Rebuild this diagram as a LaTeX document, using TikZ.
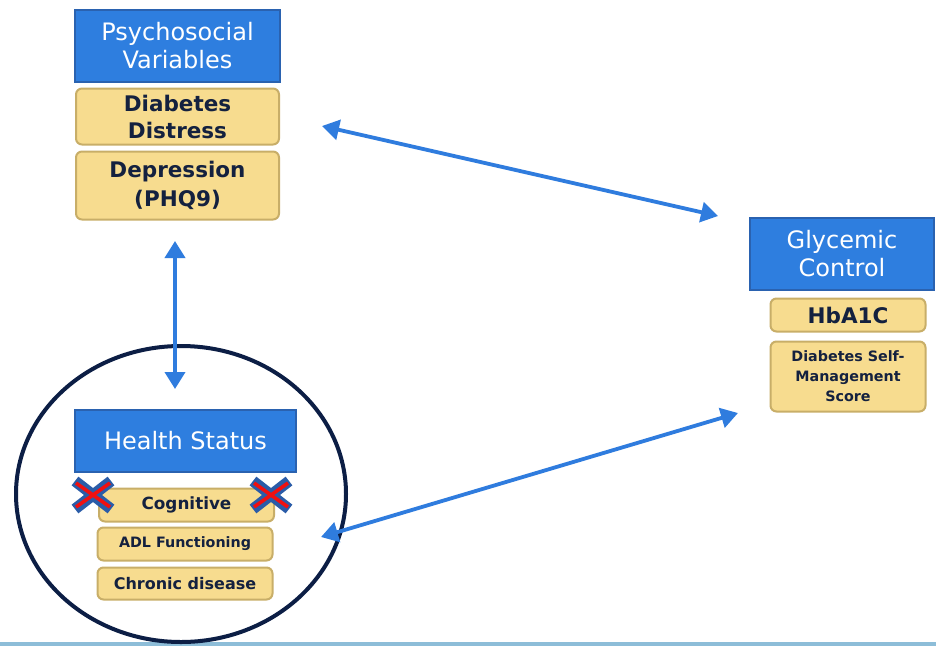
\documentclass[tikz,border=0pt]{standalone}
\usepackage{fontspec}
\setmainfont{DejaVu Sans}
\usetikzlibrary{arrows.meta}
\definecolor{boxblue}{HTML}{2E7EDF}
\definecolor{boxblueline}{HTML}{2A62B0}
\definecolor{boxyellow}{HTML}{F7DC8F}
\definecolor{yellowline}{HTML}{C8AE68}
\definecolor{navytext}{HTML}{14213F}
\definecolor{arrowblue}{HTML}{2F7CDE}
\definecolor{circlenavy}{HTML}{0C1E45}
\definecolor{xblue}{HTML}{2A5CA8}
\definecolor{xred}{HTML}{F01010}
\definecolor{stripblue}{HTML}{8DBDD8}
\tikzset{
  bluebox/.style={draw=boxblueline, line width=1.2pt, fill=boxblue, text=white,
    inner sep=0pt, align=center, font=\fontsize{24}{28}\selectfont},
  ybox/.style={draw=yellowline, line width=2pt, fill=boxyellow, text=navytext,
    rounded corners=6pt, inner sep=0pt, align=center},
  conn/.style={arrowblue, line width=3.8pt,
    {Triangle[length=17pt,width=20pt]}-{Triangle[length=17pt,width=20pt]}},
}
\begin{document}
\begin{tikzpicture}[x=1pt,y=-1pt]
\useasboundingbox (0,0) rectangle (936,646);
\fill[white] (0,0) rectangle (936,646);
\fill[stripblue] (0,642) rectangle (936,646);

% circle
\draw[circlenavy, line width=4pt] (181,494) ellipse [x radius=165, y radius=148];

% left top group
\node[bluebox, minimum width=205pt, minimum height=72pt] (psy) at (177.5,46) {Psychosocial\\Variables};
\node[ybox, minimum width=203pt, minimum height=56pt, font=\bfseries\fontsize{21.5}{27}\selectfont] (dist) at (177.5,116.5) {Diabetes\\Distress};
\node[ybox, minimum width=203pt, minimum height=68pt, font=\bfseries\fontsize{21.5}{29}\selectfont] (dep) at (177.5,185.5) {Depression\\(PHQ9)};

% right group
\node[bluebox, minimum width=184pt, minimum height=72pt] (gly) at (842,254) {Glycemic\\Control};
\node[ybox, minimum width=155pt, minimum height=33pt, font=\bfseries\fontsize{21.5}{26}\selectfont] (hba) at (848,315) {HbA1C};
\node[ybox, minimum width=155pt, minimum height=70pt, font=\bfseries\fontsize{14.3}{20}\selectfont] (dsm) at (848,376.5) {Diabetes Self-\\Management\\Score};

% health status group
\node[bluebox, minimum width=221pt, minimum height=62pt] (hs) at (185.5,441) {Health Status};
\node[ybox, minimum width=175pt, minimum height=33pt, font=\bfseries\fontsize{16.8}{20}\selectfont] (cog) at (186.5,505) {Cognitive};
\node[ybox, minimum width=175pt, minimum height=33pt, font=\bfseries\fontsize{14.3}{18}\selectfont] (adl) at (185,544) {ADL Functioning};
\node[ybox, minimum width=175pt, minimum height=32pt, font=\bfseries\fontsize{16}{19}\selectfont] (chr) at (185,583.5) {Chronic disease};

% cross marks
\foreach \cx in {93,271}{
  \draw[xblue, line width=11pt] (\cx-18,481) -- (\cx+18,509) (\cx-18,509) -- (\cx+18,481);
  \draw[xred, line width=3.6pt] (\cx-17,483) -- (\cx+17,507) (\cx-17,507) -- (\cx+17,483);
}

% connectors
\coordinate (a1) at (322,126);
\coordinate (a2) at (718,216);
\coordinate (b1) at (175,241);
\coordinate (b2) at (175,389);
\coordinate (c1) at (321,537);
\coordinate (c2) at (738,413);
\draw[conn] (a1) -- (a2);
\draw[conn] (b1) -- (b2);
\draw[conn] (c1) -- (c2);
\end{tikzpicture}
\end{document}
